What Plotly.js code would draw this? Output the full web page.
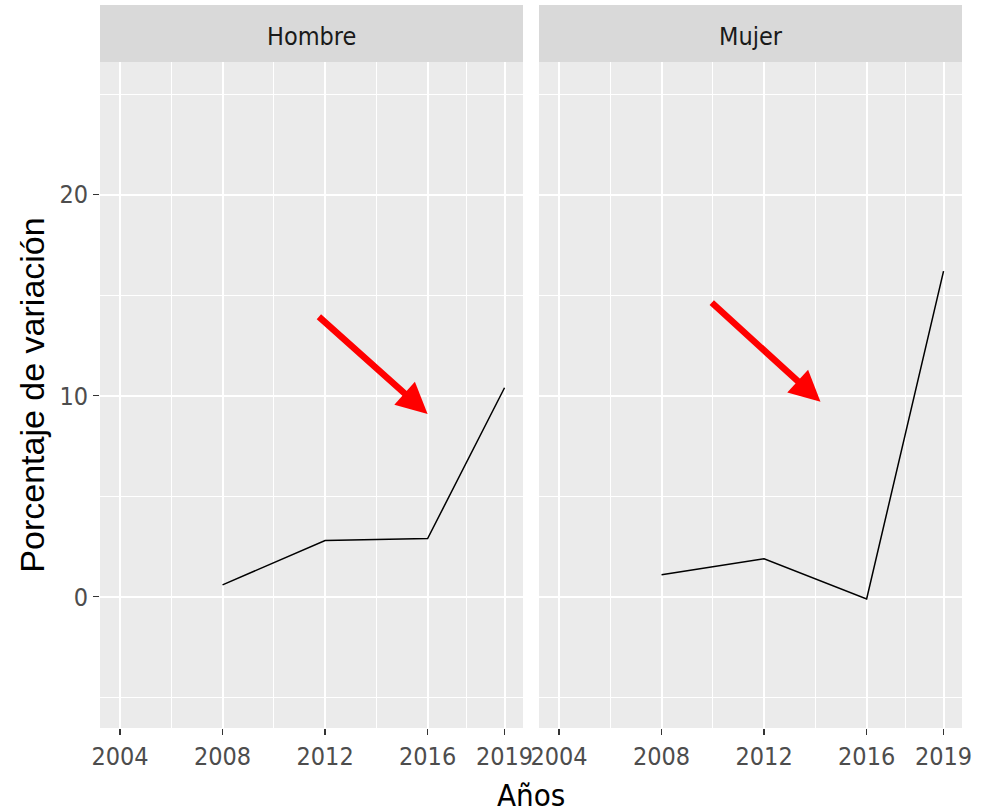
<!DOCTYPE html>
<html>
<head>
<meta charset="utf-8">
<script src="https://cdn.plot.ly/plotly-3.0.1.min.js"></script>
<style>html,body{margin:0;padding:0;background:#fff;}#chart{width:992px;height:812px;}</style>
</head>
<body>
<div id="chart"></div>
<script>
const panels = ["Hombre", "Mujer"];
const years = [2008, 2012, 2016, 2019];
const hombre = [0.6, 2.8, 2.9, 10.4];
const mujer = [1.1, 1.9, -0.1, 16.2];
const xTicks = [2004, 2008, 2012, 2016, 2019];
const xMinor = [2006, 2010, 2014, 2017.5];
const yTicks = [0, 10, 20];
const yMinor = [-5, 5, 15, 25];
// arrows: [tailX, tailY, headX, headY]
const arrowHombre = [2011.7, 14.0, 2016.0, 9.1];
const arrowMujer = [2009.9, 14.7, 2014.2, 9.7];

const narrow = "'DejaVu Sans Condensed', 'Liberation Sans Narrow', Arial, sans-serif";
const gridMajor = "#FFFFFF";

function xaxis(domain, anchor) {
  return {
    domain: domain, anchor: anchor, range: [2003.22, 2019.72],
    tickvals: xTicks, ticktext: xTicks.map(String),
    ticks: "outside", ticklen: 6, tickwidth: 1.2, tickcolor: "#333333",
    tickfont: {family: narrow, size: 25, color: "#4D4D4D"},
    showgrid: true, gridcolor: gridMajor, gridwidth: 2,
    minor: {tickvals: xMinor, showgrid: true, gridcolor: gridMajor, gridwidth: 1, ticks: ""},
    zeroline: false, showline: false, fixedrange: true
  };
}
function yaxis(anchor, showLabels) {
  return {
    anchor: anchor, range: [-6.52, 26.6],
    tickvals: yTicks, ticktext: yTicks.map(String),
    showticklabels: showLabels,
    ticks: showLabels ? "outside" : "", ticklen: 6, tickwidth: 1.2, tickcolor: "#333333",
    tickfont: {family: narrow, size: 25, color: "#4D4D4D"},
    showgrid: true, gridcolor: gridMajor, gridwidth: 2,
    minor: {tickvals: yMinor, showgrid: true, gridcolor: gridMajor, gridwidth: 1, ticks: ""},
    zeroline: false, showline: false, fixedrange: true
  };
}

const traces = [
  {x: years, y: hombre, type: "scatter", mode: "lines", line: {color: "#000000", width: 1.5}, xaxis: "x", yaxis: "y", name: panels[0], showlegend: false},
  {x: years, y: mujer, type: "scatter", mode: "lines", line: {color: "#000000", width: 1.5}, xaxis: "x2", yaxis: "y2", name: panels[1], showlegend: false}
];

const d1 = [0, 0.4907], d2 = [0.5093, 1];
const stripH = 57 / 666;

function arrow(a, xr, yr) {
  return {x: a[2], y: a[3], ax: a[0], ay: a[1], xref: xr, yref: yr, axref: xr, ayref: yr,
    showarrow: true, arrowhead: 2, arrowsize: 0.95, arrowwidth: 6.5, arrowcolor: "#FF0000", text: ""};
}

const layout = {
  width: 992, height: 812,
  margin: {l: 100, r: 30, t: 62, b: 84},
  paper_bgcolor: "#FFFFFF", plot_bgcolor: "#EBEBEB",
  showlegend: false,
  xaxis: xaxis(d1, "y"),
  xaxis2: xaxis(d2, "y2"),
  yaxis: Object.assign(yaxis("x", true), {title: {text: "Porcentaje de variación", font: {family: "'Liberation Sans', Arial, sans-serif", size: 34, color: "#000000"}, standoff: 4}}),
  yaxis2: yaxis("x2", false),
  shapes: [
    {type: "rect", xref: "paper", yref: "paper", x0: d1[0], x1: d1[1], y0: 1, y1: 1 + stripH, fillcolor: "#D9D9D9", line: {width: 0}, layer: "below"},
    {type: "rect", xref: "paper", yref: "paper", x0: d2[0], x1: d2[1], y0: 1, y1: 1 + stripH, fillcolor: "#D9D9D9", line: {width: 0}, layer: "below"}
  ],
  annotations: [
    {text: panels[0], xref: "paper", yref: "paper", x: (d1[0] + d1[1]) / 2, y: 1 + stripH * 0.45, showarrow: false, xanchor: "center", yanchor: "middle", font: {family: narrow, size: 25, color: "#1A1A1A"}},
    {text: panels[1], xref: "paper", yref: "paper", x: (d2[0] + d2[1]) / 2, y: 1 + stripH * 0.45, showarrow: false, xanchor: "center", yanchor: "middle", font: {family: narrow, size: 25, color: "#1A1A1A"}},
    {text: "Años", xref: "paper", yref: "paper", x: 0.5, y: -0.1, showarrow: false, xanchor: "center", yanchor: "middle", font: {family: narrow, size: 31, color: "#000000"}},
    arrow(arrowHombre, "x", "y"),
    arrow(arrowMujer, "x2", "y2")
  ]
};

Plotly.newPlot("chart", traces, layout, {displayModeBar: false, staticPlot: true});
</script>
</body>
</html>
